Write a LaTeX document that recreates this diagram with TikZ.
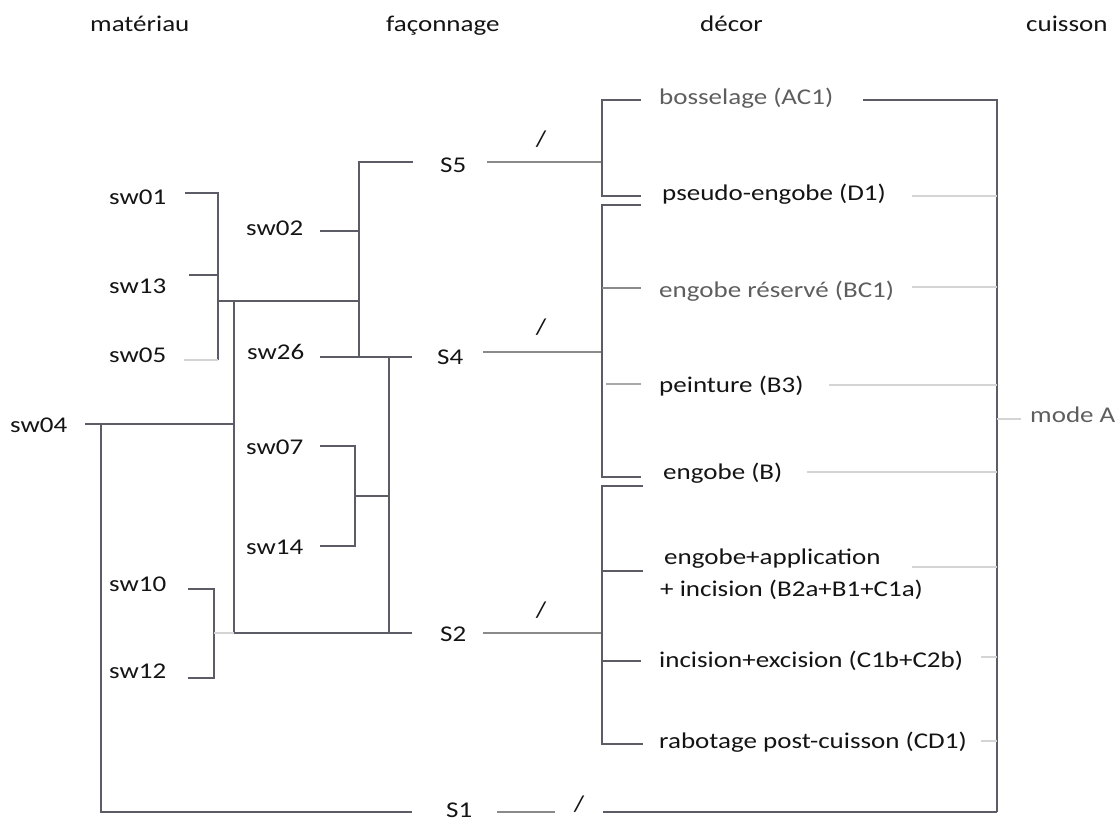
\documentclass[tikz,border=0pt]{standalone}
\usepackage{fontspec}
\setmainfont{Carlito}[FakeStretch=1.2]
\definecolor{txt}{HTML}{141414}
\definecolor{gtxt}{HTML}{5E5E5E}
\definecolor{ln}{HTML}{5C5C66}
\definecolor{sln}{HTML}{8A8A8A}
\definecolor{lln}{HTML}{D4D4D4}
\definecolor{mln}{HTML}{A8A8A8}
\tikzset{
  lbl/.style={anchor=base west,inner sep=0pt,text=txt,font=\fontsize{22.5}{31}\selectfont},
  glbl/.style={lbl,text=gtxt},
  sl/.style={inner sep=0pt,text=txt,font=\fontsize{22.5}{27}\selectfont},
  wire/.style={draw=ln,line width=1.3pt},
  swire/.style={draw=sln,line width=1.2pt},
  lwire/.style={draw=lln,line width=1.2pt},
  mwire/.style={draw=mln,line width=1.2pt}
}
\begin{document}
\begin{tikzpicture}[x=1pt,y=-1pt]
\useasboundingbox (0,0) rectangle (1119,823);
% headers
\node[lbl] (hmat) at (90,31) {matériau};
\node[lbl] (hfac) at (386,31) {façonnage};
\node[lbl] (hdec) at (700,31) {décor};
\node[lbl] (hcui) at (1026,31) {cuisson};
% left labels
\node[lbl] (sw01) at (109,204) {sw01};
\node[lbl] (sw13) at (109,293) {sw13};
\node[lbl] (sw05) at (109,362) {sw05};
\node[lbl] (sw02) at (246,235) {sw02};
\node[lbl] (sw26) at (247,359) {sw26};
\node[lbl] (sw07) at (246,454) {sw07};
\node[lbl] (sw14) at (246,554) {sw14};
\node[lbl] (sw10) at (109,591) {sw10};
\node[lbl] (sw12) at (109,678) {sw12};
\node[lbl] (sw04) at (10,432) {sw04};
% S labels
\node[lbl] (S5) at (440,172) {S5};
\node[lbl] (S4) at (437,364) {S4};
\node[lbl] (S2) at (440,641) {S2};
\node[lbl] (S1) at (446,817) {S1};
\node[sl] (sl5) at (541,139) {/};
\node[sl] (sl4) at (541,327) {/};
\node[sl] (sl2) at (541,610) {/};
\node[sl] (sl1) at (579,804) {/};
% decor labels
\node[glbl] (d1) at (659,104) {bosselage (AC1)};
\node[lbl] (d2) at (662,200) {pseudo-engobe (D1)};
\node[glbl] (d3) at (659,297) {engobe réservé (BC1)};
\node[lbl] (d4) at (659,392) {peinture (B3)};
\node[lbl] (d5) at (663,479) {engobe (B)};
\node[lbl] (d6) at (664,564) {engobe+application};
\node[lbl] (d6b) at (660,596) {+ incision (B2a+B1+C1a)};
\node[lbl] (d7) at (659,667) {incision+excision (C1b+C2b)};
\node[lbl] (d8) at (659,748) {rabotage post-cuisson (CD1)};
\node[glbl] (modeA) at (1030,422) {mode A};
% coordinates: left tree
\coordinate (a1) at (185,193); \coordinate (a1e) at (218,193);
\coordinate (a2) at (189,275); \coordinate (a2e) at (218,275);
\coordinate (a3) at (184,360); \coordinate (a3e) at (218,360);
\coordinate (j1) at (218,301); \coordinate (j1e) at (359,301);
\coordinate (b1) at (320,231); \coordinate (b1e) at (359,231);
\coordinate (t5) at (359,162); \coordinate (t5e) at (413,162);
\coordinate (b2) at (320,357); \coordinate (j2) at (359,357);
\coordinate (j3) at (389,357); \coordinate (t4e) at (412,357);
\coordinate (j4) at (234,301); \coordinate (j5) at (234,633);
\coordinate (j6) at (389,633); \coordinate (t2e) at (412,633);
\coordinate (c0) at (85,424); \coordinate (j7) at (234,424);
\coordinate (j8) at (101,424); \coordinate (j9) at (101,812);
\coordinate (t1e) at (412,812);
\coordinate (e1) at (320,446); \coordinate (e1e) at (355,446);
\coordinate (e2) at (320,546); \coordinate (e2e) at (355,546);
\coordinate (j10) at (355,496); \coordinate (j11) at (389,496);
\coordinate (f1) at (188,589); \coordinate (f1e) at (214,589);
\coordinate (f2) at (188,678); \coordinate (f2e) at (214,678);
\coordinate (j12) at (214,633);
% left tree wires
\draw[wire] (a1) -- (a1e) -- (a3e);
\draw[wire] (a2) -- (a2e);
\draw[lwire] (a3) -- (a3e);
\draw[wire] (j1) -- (j1e);
\draw[wire] (b1) -- (b1e);
\draw[wire] (t5e) -- (t5) -- (j2);
\draw[wire] (b2) -- (t4e);
\draw[wire] (j3) -- (j6);
\draw[wire] (j4) -- (j5) -- (t2e);
\draw[wire] (c0) -- (j7);
\draw[wire] (j8) -- (j9) -- (t1e);
\draw[wire] (e1) -- (e1e) -- (e2e) -- (e2);
\draw[wire] (j10) -- (j11);
\draw[wire] (f1) -- (f1e) -- (f2e) -- (f2);
\draw[lwire] (j12) -- (j5);
% middle
\coordinate (m5) at (487,162); \coordinate (k5) at (602,162);
\coordinate (p1) at (641,100); \coordinate (q1) at (602,100);
\coordinate (q2) at (602,196); \coordinate (p2) at (641,196);
\coordinate (m4) at (483,352); \coordinate (k4) at (602,352);
\coordinate (p3) at (641,205); \coordinate (q3) at (602,205);
\coordinate (q4) at (602,477); \coordinate (p4) at (641,477);
\coordinate (q5) at (602,288); \coordinate (p5) at (641,288);
\coordinate (q6) at (606,384); \coordinate (p6) at (641,384);
\coordinate (m2) at (483,633); \coordinate (k2) at (602,633);
\coordinate (p7) at (643,486); \coordinate (q7) at (602,486);
\coordinate (q8) at (602,744); \coordinate (p8) at (643,744);
\coordinate (q9) at (602,571); \coordinate (p9) at (643,571);
\coordinate (q10) at (602,661); \coordinate (p10) at (641,661);
\coordinate (m1) at (497,812); \coordinate (m1e) at (555,812);
\coordinate (n1) at (603,812); \coordinate (r0) at (997,812);
\draw[swire] (m5) -- (k5);
\draw[wire] (p1) -- (q1) -- (q2) -- (p2);
\draw[swire] (m4) -- (k4);
\draw[wire] (p3) -- (q3) -- (q4) -- (p4);
\draw[swire] (q5) -- (p5);
\draw[mwire] (q6) -- (p6);
\draw[swire] (m2) -- (k2);
\draw[wire] (p7) -- (q7) -- (q8) -- (p8);
\draw[wire] (q9) -- (p9);
\draw[wire] (q10) -- (p10);
\draw[swire] (m1) -- (m1e);
\draw[wire] (n1) -- (r0);
% right
\coordinate (r1) at (863,100); \coordinate (r2) at (997,100);
\draw[wire] (r1) -- (r2) -- (r0);
\coordinate (s2) at (912,196); \coordinate (u2) at (997,196);
\coordinate (s3) at (912,287); \coordinate (u3) at (997,287);
\coordinate (s4) at (829,385); \coordinate (u4) at (997,385);
\coordinate (s5) at (807,472); \coordinate (u5) at (997,472);
\coordinate (s6) at (912,567); \coordinate (u6) at (997,567);
\coordinate (s7) at (981,657); \coordinate (u7) at (997,657);
\coordinate (s8) at (981,741); \coordinate (u8) at (997,741);
\coordinate (ma) at (997,419); \coordinate (mae) at (1021,419);
\draw[lwire] (s2) -- (u2);
\draw[lwire] (s3) -- (u3);
\draw[lwire] (s4) -- (u4);
\draw[lwire] (s5) -- (u5);
\draw[lwire] (s6) -- (u6);
\draw[lwire] (s7) -- (u7);
\draw[lwire] (s8) -- (u8);
\draw[lwire] (ma) -- (mae);
\end{tikzpicture}
\end{document}
